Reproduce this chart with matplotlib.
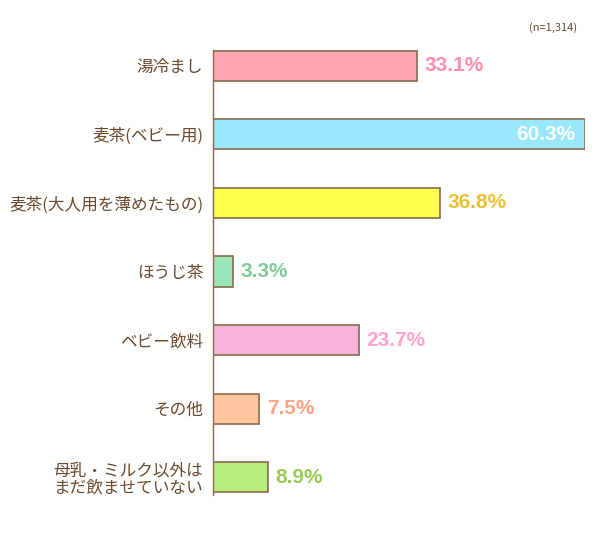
import numpy as np
import matplotlib.pyplot as plt

plt.rcParams['font.family'] = ['Noto Sans CJK JP', 'DejaVu Sans']

#---------------data
categories = ['湯冷まし', '麦茶(ベビー用)', '麦茶(大人用を薄めたもの)', 'ほうじ茶',
              'ベビー飲料', 'その他', '母乳・ミルク以外は\nまだ飲ませていない']
values = [33.1, 60.3, 36.8, 3.3, 23.7, 7.5, 8.9]
bar_colors = ['#FFA6B0', '#99E8FC', '#FFFF4D', '#99E6B8', '#F7B5DE', '#FFC6A0', '#B9EC7A']
label_colors = ['#FF8FA6', '#FFFFFF', '#E8C233', '#80CC99', '#FFA3D0', '#FFA384', '#99CC55']
n_note = '(n=1,314)'

brown = '#8A6A4E'
text_brown = '#6B4A2E'

#---------------figure
fig = plt.figure(figsize=(6, 5.43), dpi=100)
ax = fig.add_axes([213 / 600, 1 - 495 / 543, (585 - 213) / 600, (495 - 50) / 543])

y = np.arange(len(categories))
ax.barh(y, values, height=0.44, color=bar_colors, edgecolor=brown, linewidth=1.2)

ax.set_xlim(0, max(values))
ax.set_ylim(len(categories) - 1 + 0.26, -0.23)

# value labels, the longest bar gets its label inside
for i, (v, c) in enumerate(zip(values, label_colors)):
    if v == max(values):
        ax.text(v - 1.6, i, f'{v:.1f}%', ha='right', va='center', color=c,
                fontsize=15, fontweight='bold', family='Liberation Sans')
    else:
        ax.text(v + 1.2, i, f'{v:.1f}%', ha='left', va='center', color=c,
                fontsize=15, fontweight='bold', family='Liberation Sans')

ax.set_yticks(y)
ax.set_yticklabels(categories, fontsize=12, color=text_brown, linespacing=1.05)
ax.tick_params(axis='y', length=0, pad=7)
ax.set_xticks([])

for s in ['top', 'right', 'bottom']:
    ax.spines[s].set_visible(False)
ax.spines['left'].set_color(brown)
ax.spines['left'].set_linewidth(1.0)

fig.text(577 / 600, 1 - 28 / 543, n_note, ha='right', va='center', fontsize=8,
         color=text_brown)

fig.savefig('out.png', dpi=100)
